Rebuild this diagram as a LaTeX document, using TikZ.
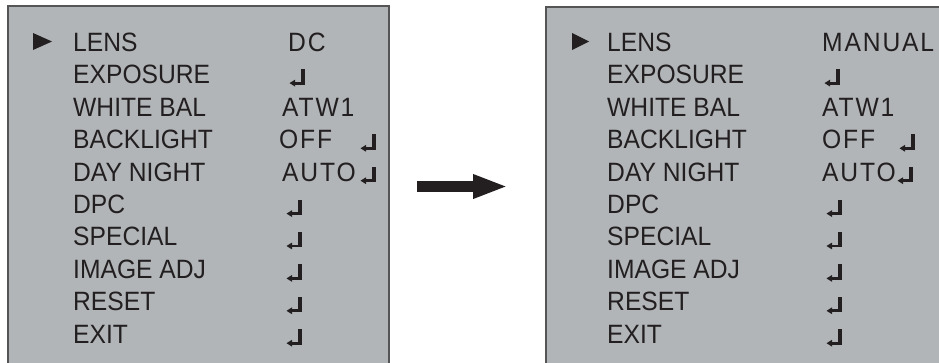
\documentclass[tikz,border=0pt]{standalone}
\usepackage{fontspec}
\setmainfont[FakeStretch=0.93]{Liberation Sans}
\newfontfamily\valfont[FakeStretch=0.93,LetterSpace=7]{Liberation Sans}
\usetikzlibrary{arrows.meta}
\definecolor{panelfill}{RGB}{177,181,184}
\definecolor{panelline}{RGB}{85,85,85}
\definecolor{ink}{RGB}{35,31,32}
\begin{document}
\begin{tikzpicture}[x=1pt,y=-1pt,
  panel/.style={fill=panelfill,draw=panelline,line width=1.6pt},
  item/.style={anchor=base west,inner sep=0pt,text=ink,font=\fontsize{26.5}{26.5}\selectfont},
  val/.style={anchor=base west,inner sep=0pt,text=ink,font=\fontsize{26.5}{26.5}\valfont},
  marker/.style={fill=ink},
  bigarrow/.style={draw=ink,line width=11pt,line cap=butt,-{Triangle[length=35pt,width=22pt]}},
  ret/.pic={
    \fill[ink] (-3.8,0) rectangle (0,-15.5);
    \fill[ink] (-11,0) rectangle (0,-2.8);
    \fill[ink] (-15.5,-1.4) -- (-10,-4.8) -- (-10,2.0) -- cycle;
  }]
\useasboundingbox (0,0) rectangle (939,362);
\clip (0,0) rectangle (939,362);
% panels
\draw[panel] (8,6) rectangle (389,380);
\draw[panel] (546,7) rectangle (960,380);
% left panel
\fill[marker] (33,33) -- (33,50) -- (52,41.5) -- cycle;
\foreach \t [count=\i from 0] in {LENS,EXPOSURE,WHITE BAL,BACKLIGHT,DAY NIGHT,DPC,SPECIAL,IMAGE ADJ,RESET,EXIT}
  \node[item] (L\i) at (73,{51.5+32.4*\i}) {\t};
\node[val] (LV0) at (288,51.5) {DC};
\pic at (305,84.5) {ret};
\node[val] (LV2) at (282,116.3) {ATW1};
\node[val] (LV3) at (279,148.7) {OFF};
\pic at (376,149.7) {ret};
\node[val] (LV4) at (282,181.1) {AUTO};
\pic at (376,182.1) {ret};
\foreach \i in {5,...,9}
  \pic at (302,{51.5+32.4*\i+1.5}) {ret};
% arrow
\coordinate (as) at (417,186.5);
\coordinate (ae) at (508,186.5);
\draw[bigarrow] (as) -- (ae);
% right panel
\fill[marker] (572,33) -- (572,50) -- (589,41.5) -- cycle;
\foreach \t [count=\i from 0] in {LENS,EXPOSURE,WHITE BAL,BACKLIGHT,DAY NIGHT,DPC,SPECIAL,IMAGE ADJ,RESET,EXIT}
  \node[item] (R\i) at (607,{51.5+32.4*\i}) {\t};
\node[val] (RV0) at (822,51.5) {MANUAL};
\pic at (840,84.5) {ret};
\node[val] (RV2) at (822,116.3) {ATW1};
\node[val] (RV3) at (822,148.7) {OFF};
\pic at (915,149.7) {ret};
\node[val] (RV4) at (822,181.1) {AUTO};
\pic at (913,182.1) {ret};
\foreach \i in {5,...,9}
  \pic at (842,{51.5+32.4*\i+1.5}) {ret};
\end{tikzpicture}
\end{document}
